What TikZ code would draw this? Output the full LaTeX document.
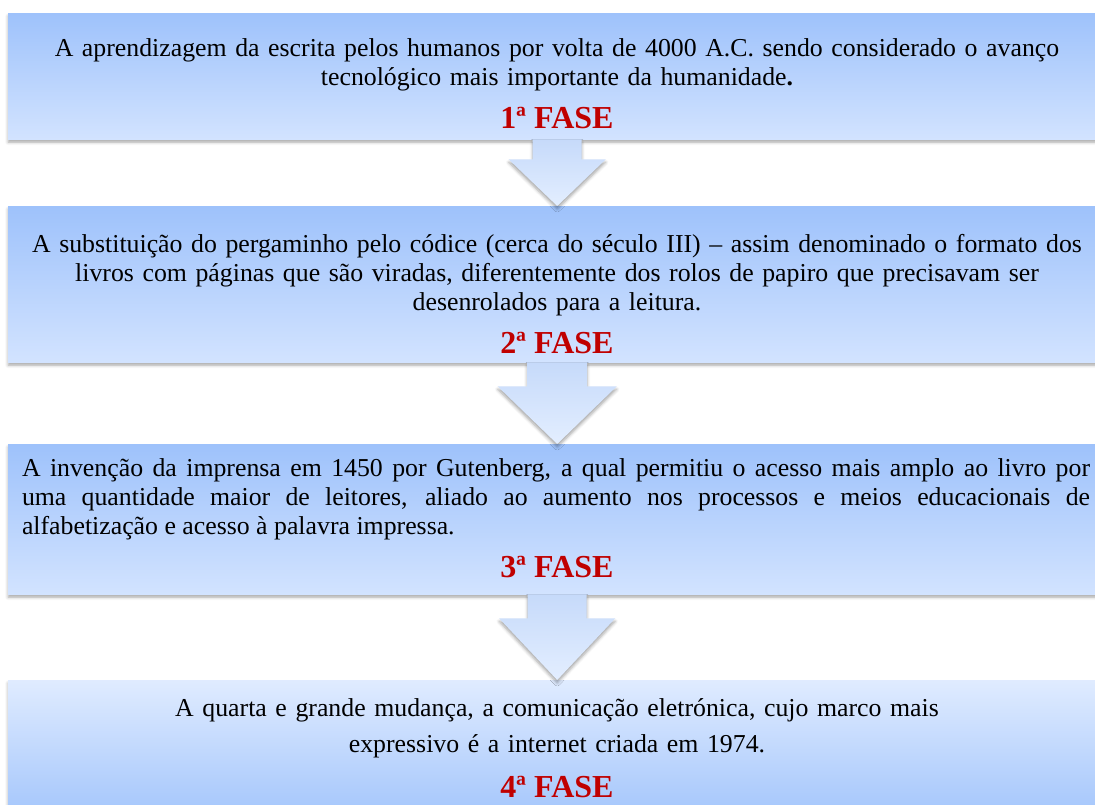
\documentclass[tikz,border=0pt]{standalone}
\usepackage{fontspec}
\setmainfont{Liberation Serif}
\usetikzlibrary{calc,shadows.blur}

\definecolor{boxtop}{HTML}{9EC2FB}
\definecolor{boxbot}{HTML}{D2E3FF}
\definecolor{arrowtop}{HTML}{C6DAFA}
\definecolor{arrowbot}{HTML}{E3EEFF}
\definecolor{faseRed}{HTML}{C00000}

\tikzset{
  softshadow/.style={blur shadow={shadow xshift=0pt, shadow yshift=-3pt,
      shadow blur radius=3pt, shadow opacity=35}},
  fasebox/.style={draw=none, inner sep=0pt, minimum width=1098pt,
      minimum height=#1, anchor=north west, top color=boxtop,
      bottom color=boxbot, softshadow},
  fasearrow/.style={top color=arrowtop, bottom color=arrowbot, softshadow},
  bodytext/.style={inner sep=0pt, font=\fontsize{25.8}{29}\selectfont},
  fasetext/.style={inner sep=0pt, text=faseRed,
      font=\fontsize{32}{36}\selectfont\bfseries}
}

% arrow from box #1 to box #2: shaft half width, head half width, shaft length
\newcommand{\fasearrowto}[5]{%
  \path[fasearrow] ($(#1.south)+(-#3,0)$) -- ($(#1.south)+(-#3,#5)$)
    -- ($(#1.south)+(-#4,#5)$) -- (#2.north) -- ($(#1.south)+(#4,#5)$)
    -- ($(#1.south)+(#3,#5)$) -- ($(#1.south)+(#3,0)$) -- cycle;}

\begin{document}
\begin{tikzpicture}[x=1pt,y=-1pt]
  \useasboundingbox (0,0) rectangle (1095,805);
  \clip (0,0) rectangle (1095,805);

  % the four boxes
  \node[fasebox=126pt] (box1) at (8,13) {};
  \node[fasebox=156pt] (box2) at (8,206) {};
  \node[fasebox=150pt] (box3) at (8,444) {};
  \node[fasebox=150pt, top color=boxbot!70!white, bottom color=boxtop] (box4) at (8,680) {};

  % arrows between them
  \fasearrowto{box1}{box2}{24.5}{48.5}{20}
  \fasearrowto{box2}{box3}{30}{59.5}{24}
  \fasearrowto{box3}{box4}{29.5}{58}{24}

  % texts
  \node[bodytext, text width=1080pt, align=center] (txt1) at (557,65)
    {A aprendizagem da escrita pelos humanos por volta de 4000 A.C. sendo considerado o avanço\\
     tecnológico mais importante da humanidade\textbf{.}};
  \node[fasetext] (fase1) at (557,118) {1ª FASE};

  \node[bodytext, text width=1080pt, align=center] (txt2) at (557,275)
    {A substituição do pergaminho pelo códice (cerca do século III) – assim denominado o formato dos\\
     livros com páginas que são viradas, diferentemente dos rolos de papiro que precisavam ser\\
     desenrolados para a leitura.};
  \node[fasetext] (fase2) at (557,343) {2ª FASE};

  \node[bodytext, text width=1068pt, align=justify] (txt3) at (556,499)
    {A invenção da imprensa em 1450 por Gutenberg, a qual permitiu o acesso mais amplo ao livro por\linebreak
     uma quantidade maior de leitores, aliado ao aumento nos processos e meios educacionais de\linebreak
     alfabetização e acesso à palavra impressa.};
  \node[fasetext] (fase3) at (557,567) {3ª FASE};

  \node[bodytext, text width=1080pt, align=center,
        font=\fontsize{25.8}{36}\selectfont] (txt4) at (557,728)
    {A quarta e grande mudança, a comunicação eletrónica, cujo marco mais\\
     expressivo é a internet criada em 1974.};
  \node[fasetext] (fase4) at (557,787) {4ª FASE};
\end{tikzpicture}
\end{document}
